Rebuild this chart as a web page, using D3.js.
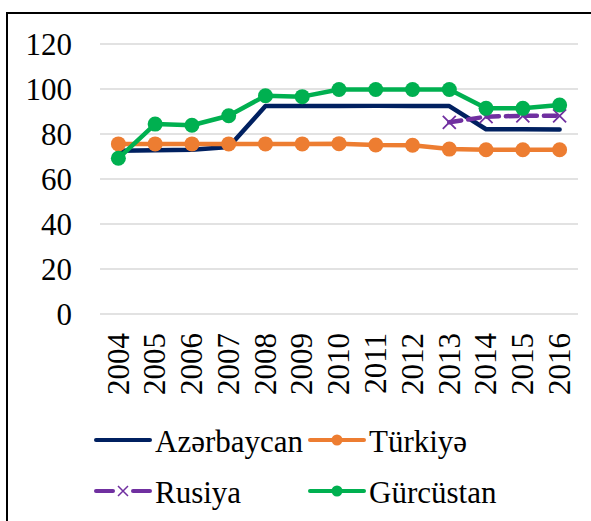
<!DOCTYPE html>
<html>
<head>
<meta charset="utf-8">
<script src="https://cdn.jsdelivr.net/npm/d3@7"></script>
<style>
  body { margin: 0; background: #fff; }
</style>
</head>
<body>
<svg id="chart"></svg>
<script>
const years = ["2004", "2005", "2006", "2007", "2008", "2009", "2010", "2011", "2012", "2013", "2014", "2015", "2016"];
const azerbaycan = [72.6, 72.8, 73, 74.2, 92.4, 92.4, 92.4, 92.5, 92.5, 92.4, 82.1, 82.1, 82];
const turkiye = [75.6, 75.6, 75.6, 75.6, 75.6, 75.6, 75.7, 75.1, 75, 73.3, 73, 73, 73];
const rusiya = [null, null, null, null, null, null, null, null, null, 85.2, 87.7, 88.1, 88.1];
const gurcustan = [69.2, 84.4, 83.9, 88.1, 97, 96.6, 99.8, 99.8, 99.8, 99.8, 91.4, 91.4, 92.9];
const yTicks = [0, 20, 40, 60, 80, 100, 120];

const colorAz = "#002060";
const colorTr = "#ED7D31";
const colorRu = "#7030A0";
const colorGe = "#00B050";
const fontFam = "'Liberation Serif', 'Times New Roman', serif";

const width = 591, height = 521;
const svg = d3.select('svg#chart')
    .attr('width', width)
    .attr('height', height);

// outer frame (runs off right/bottom)
svg.append('rect')
    .attr('x', 7).attr('y', 13)
    .attr('width', 700).attr('height', 700)
    .attr('fill', 'none')
    .attr('stroke', '#000')
    .attr('stroke-width', 2);

const x = d3.scaleBand().domain(years).range([100, 578]);
const y = d3.scaleLinear().domain([0, 120]).range([314, 44]);
const cx = d => x(d) + x.bandwidth() / 2;

// gridlines
svg.append('g').selectAll('line').data(yTicks).join('line')
    .attr('x1', 100).attr('x2', 578)
    .attr('y1', d => y(d)).attr('y2', d => y(d))
    .attr('stroke', '#D9D9D9')
    .attr('stroke-width', 1.5);

// y labels
svg.append('g').selectAll('text').data(yTicks).join('text')
    .attr('x', 72)
    .attr('y', d => y(d))
    .attr('dy', '0.35em')
    .attr('text-anchor', 'end')
    .style('font-family', fontFam)
    .style('font-size', '31px')
    .text(d => d);

// x labels, rotated
svg.append('g').selectAll('text').data(years).join('text')
    .attr('transform', d => `translate(${cx(d)},333) rotate(-90)`)
    .attr('dy', '0.33em')
    .attr('text-anchor', 'end')
    .style('font-family', fontFam)
    .style('font-size', '31px')
    .text(d => d);

const line = d3.line()
    .defined(d => d[1] != null)
    .x(d => cx(d[0]))
    .y(d => y(d[1]));

function drawSeries(vals, color, opts) {
    const pts = years.map((yr, i) => [yr, vals[i]]);
    svg.append('path')
        .datum(pts)
        .attr('d', line)
        .attr('fill', 'none')
        .attr('stroke', color)
        .attr('stroke-width', 4.5)
        .attr('stroke-linejoin', 'round')
        .attr('stroke-linecap', 'round')
        .attr('stroke-dasharray', opts.dash || null);
    const valid = pts.filter(d => d[1] != null);
    if (opts.marker == 'circle') {
        svg.append('g').selectAll('circle').data(valid).join('circle')
            .attr('cx', d => cx(d[0]))
            .attr('cy', d => y(d[1]))
            .attr('r', 7.5)
            .attr('fill', color);
    } else if (opts.marker == 'x') {
        svg.append('g').selectAll('path').data(valid).join('path')
            .attr('d', d => {
                const px = cx(d[0]), py = y(d[1]), s = 6.5;
                return `M${px - s},${py - s}L${px + s},${py + s}M${px - s},${py + s}L${px + s},${py - s}`;
            })
            .attr('stroke', color)
            .attr('stroke-width', 1.8)
            .attr('fill', 'none');
    }
}

drawSeries(azerbaycan, colorAz, {});
drawSeries(turkiye, colorTr, { marker: 'circle' });
drawSeries(rusiya, colorRu, { marker: 'x', dash: '12,7' });
drawSeries(gurcustan, colorGe, { marker: 'circle' });

// legend
const legendItems = [
    { name: "Azərbaycan", color: colorAz, marker: null, lx: 96, ly: 440 },
    { name: "Türkiyə", color: colorTr, marker: 'circle', lx: 310, ly: 440 },
    { name: "Rusiya", color: colorRu, marker: 'x', lx: 96, ly: 491 },
    { name: "Gürcüstan", color: colorGe, marker: 'circle', lx: 310, ly: 491 }
];

const lg = svg.append('g').selectAll('g').data(legendItems).join('g');
lg.append('line')
    .attr('x1', d => d.lx).attr('x2', d => d.lx + 54)
    .attr('y1', d => d.ly).attr('y2', d => d.ly)
    .attr('stroke', d => d.color)
    .attr('stroke-width', 4)
    .attr('stroke-linecap', 'round');
lg.filter(d => d.marker == 'circle').append('circle')
    .attr('cx', d => d.lx + 27).attr('cy', d => d.ly)
    .attr('r', 5.5)
    .attr('fill', d => d.color);
lg.filter(d => d.marker == 'x').each(function (d) {
    const g = d3.select(this);
    g.select('line').remove();
    const px = d.lx + 27, py = d.ly, s = 5;
    g.append('line').attr('x1', d.lx).attr('x2', px - 10).attr('y1', py).attr('y2', py)
        .attr('stroke', d.color).attr('stroke-width', 4).attr('stroke-linecap', 'round');
    g.append('line').attr('x1', px + 10).attr('x2', d.lx + 54).attr('y1', py).attr('y2', py)
        .attr('stroke', d.color).attr('stroke-width', 4).attr('stroke-linecap', 'round');
    g.append('path')
        .attr('d', `M${px - s},${py - s}L${px + s},${py + s}M${px - s},${py + s}L${px + s},${py - s}`)
        .attr('stroke', d.color).attr('stroke-width', 1.5).attr('fill', 'none');
});
lg.append('text')
    .attr('x', d => d.lx + 59)
    .attr('y', d => d.ly + 12)
    .style('font-family', fontFam)
    .style('font-size', '31px')
    .text(d => d.name);
</script>
</body>
</html>
